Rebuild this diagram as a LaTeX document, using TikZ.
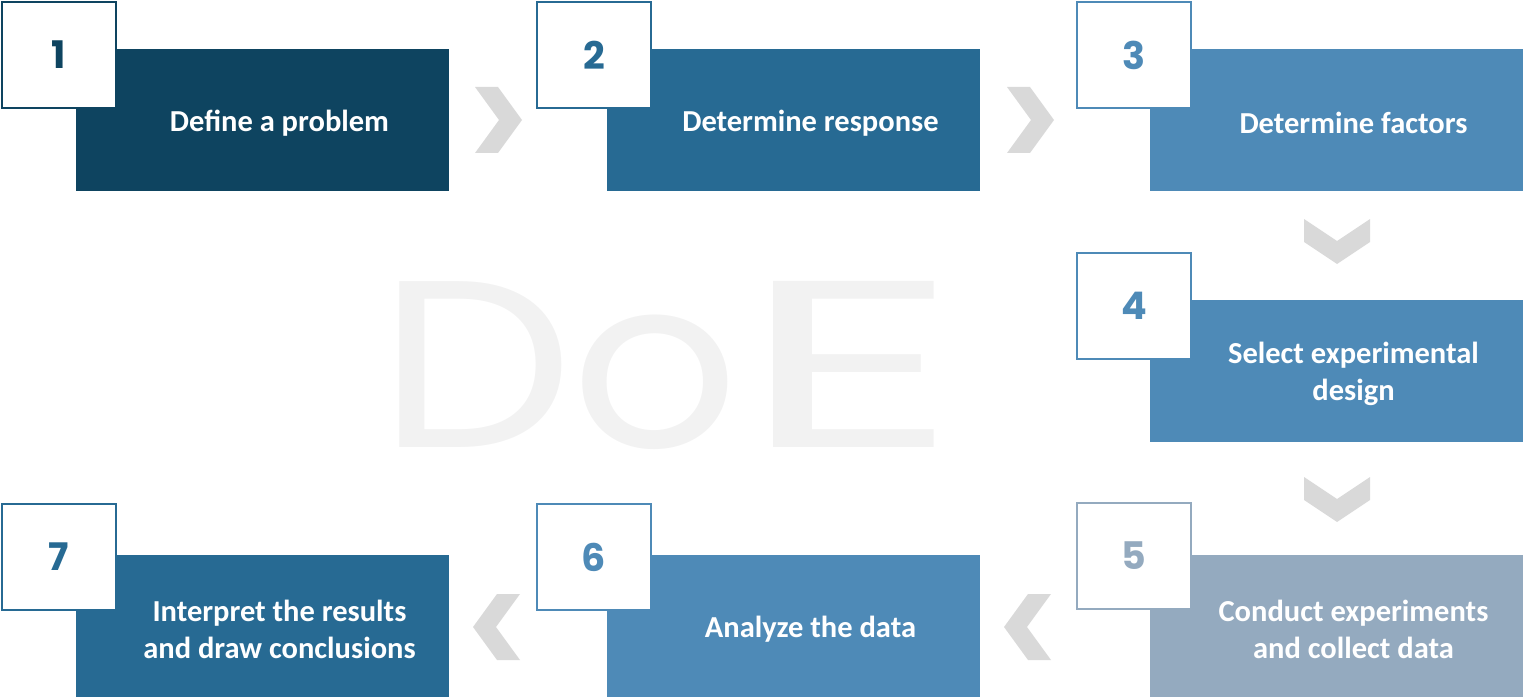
\documentclass[tikz,border=0pt]{standalone}
\usepackage{fontspec}
\setmainfont{Carlito}
\newfontfamily\numfont{Poppins}
\usetikzlibrary{calc}
\definecolor{cA}{HTML}{0E4460}
\definecolor{cB}{HTML}{276A93}
\definecolor{cC}{HTML}{4E8AB7}
\definecolor{cD}{HTML}{94AABF}
\definecolor{chev}{HTML}{D9D9D9}
\definecolor{doe}{HTML}{F2F2F2}
\tikzset{
  mainbox/.style={fill=#1, draw=none, minimum width=373pt, minimum height=142pt, inner sep=0pt, outer sep=0pt, anchor=north west},
  numbox/.style={fill=white, draw=#1, line width=2.2pt, minimum width=114pt, minimum height=106pt, inner sep=0pt, outer sep=0pt, anchor=north west, text=#1, font=\numfont\bfseries\fontsize{38}{38}\selectfont},
  steptext/.style={text=white, align=center, font=\bfseries\fontsize{30.5}{37}\selectfont, inner sep=0pt},
  doeletter/.style={text=doe, font=\numfont\fontsize{238}{238}\selectfont, inner sep=0pt, anchor=base, transform shape},
  chevshape/.style={fill=chev, draw=none}
}
\begin{document}
\begin{tikzpicture}[x=1pt,y=-1pt]
\useasboundingbox (0,0) rectangle (1523,698);
% DoE watermark
\node[doeletter, xscale=1.16] (doeD) at (476,447) {D};
\node[doeletter, xscale=1.1] (doeO) at (655,447) {o};
\node[doeletter, xscale=1.8] (doeE) at (850,447) {E};
% main boxes
\node[mainbox=cA] (b1) at (76,49) {};
\node[mainbox=cB] (b2) at (607,49) {};
\node[mainbox=cC] (b3) at (1150,49) {};
\node[mainbox=cC] (b4) at (1150,300) {};
\node[mainbox=cD] (b5) at (1150,555) {};
\node[mainbox=cC] (b6) at (607,555) {};
\node[mainbox=cB] (b7) at (76,555) {};
% texts
\node[steptext] (t1) at ([xshift=17pt,yshift=-3pt]b1.center) {Define a problem};
\node[steptext] (t2) at ([xshift=17pt,yshift=-3pt]b2.center) {Determine response};
\node[steptext] (t3) at ([xshift=17pt,yshift=-3pt]b3.center) {Determine factors};
\node[steptext] (t4) at ([xshift=17pt,yshift=-3pt]b4.center) {Select experimental\\design};
\node[steptext] (t5) at ([xshift=17pt,yshift=-3pt]b5.center) {Conduct experiments\\and collect data};
\node[steptext] (t6) at ([xshift=17pt,yshift=-3pt]b6.center) {Analyze the data};
\node[steptext] (t7) at ([xshift=17pt,yshift=-3pt]b7.center) {Interpret the results\\and draw conclusions};
% number squares
\node[numbox=cA] (s1) at (2,2) {1};
\node[numbox=cB] (s2) at (537,2) {2};
\node[numbox=cC] (s3) at (1077,2) {3};
\node[numbox=cC] (s4) at (1077,253) {4};
\node[numbox=cD] (s5) at (1077,503) {5};
\node[numbox=cC] (s6) at (537,504) {6};
\node[numbox=cB] (s7) at (2,504) {7};
% chevrons
\coordinate (r12) at (498,120);
\coordinate (r23) at (1030,120);
\coordinate (d34) at (1337,242);
\coordinate (d45) at (1337,500);
\coordinate (l56) at (1028,627);
\coordinate (l67) at (497,627);
\foreach \c in {r12,r23}{
  \fill[chev] ($(\c)+(-23,-33)$) -- ++(23,0) -- ++(24,33) -- ++(-24,33) -- ++(-23,0) -- ++(24,-33) -- cycle;
}
\foreach \c in {l56,l67}{
  \fill[chev] ($(\c)+(23,-33)$) -- ++(-23,0) -- ++(-24,33) -- ++(24,33) -- ++(23,0) -- ++(-24,-33) -- cycle;
}
\foreach \c in {d34,d45}{
  \fill[chev] ($(\c)+(-33,-23)$) -- ++(0,23) -- ++(33,22) -- ++(33,-22) -- ++(0,-23) -- ++(-33,22) -- cycle;
}
\end{tikzpicture}
\end{document}
